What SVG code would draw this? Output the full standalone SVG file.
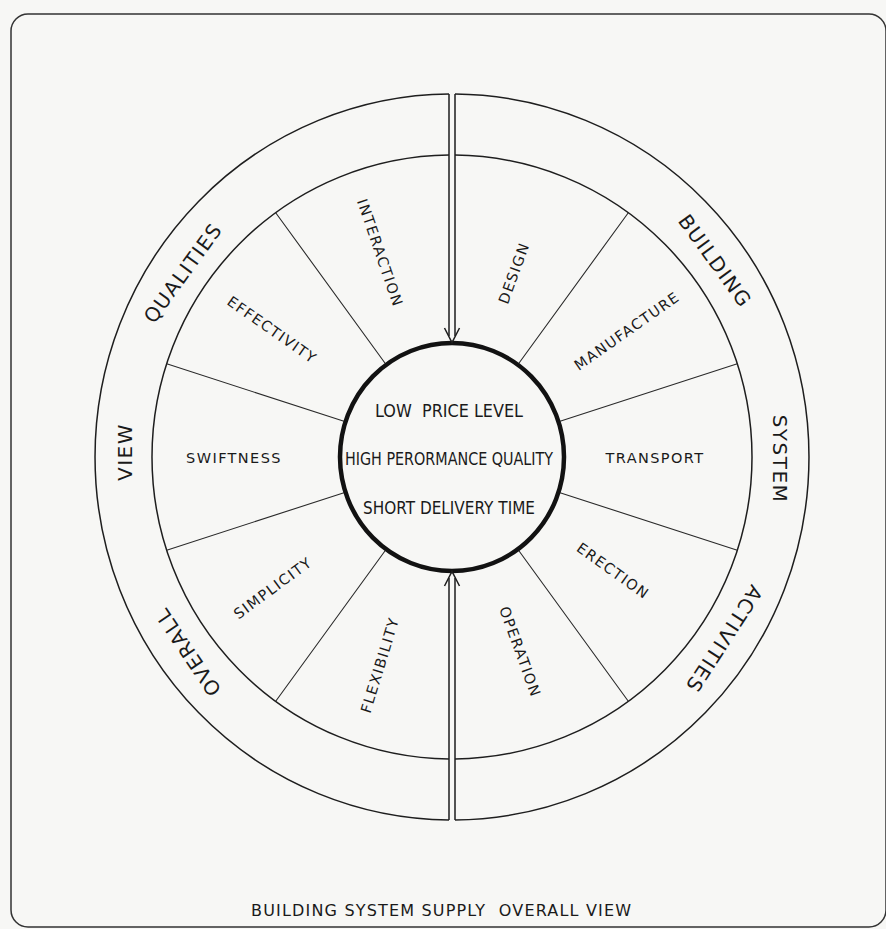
<svg xmlns="http://www.w3.org/2000/svg" width="886" height="929" viewBox="0 0 886 929">
<style>
.ln{fill:none;stroke:#1e1e1e;stroke-width:1.5}
.sp{fill:none;stroke:#2a2a2a;stroke-width:1.1}
.hub{fill:none;stroke:#121212;stroke-width:4.5}
.ar{fill:none;stroke:#1e1e1e;stroke-width:1.5;stroke-linejoin:miter}
text{font-family:"DejaVu Sans","Liberation Sans",sans-serif;fill:#1a1a1a;text-anchor:middle;dominant-baseline:central}
.seg{font-size:14.5px;letter-spacing:1.4px}
.ring{font-size:20px;letter-spacing:1.5px}
.core{font-size:18px;white-space:pre}
.title{font-size:16px;white-space:pre}
</style>
<rect width="886" height="929" fill="#f7f7f5"/>
<rect id="frame" x="11" y="14" width="875" height="913" rx="17" fill="none" stroke="#333" stroke-width="1.5"/>

<g id="rings">
<path class="ln" d="M449 94.013 A357 363 0 0 0 449 819.987"/>
<path class="ln" d="M455 94.013 A357 363 0 0 1 455 819.987"/>
<path class="ln" d="M449 155.015 A300 302 0 0 0 449 758.985"/>
<path class="ln" d="M455 155.015 A300 302 0 0 1 455 758.985"/>
<path class="sp" d="M517.8 364.8 L628.3 212.7 M558.5 421.8 L737.3 363.7 M558.5 492.2 L737.3 550.3 M517.8 549.2 L628.3 701.3 M386.2 364.8 L275.7 212.7 M345.5 421.8 L166.7 363.7 M345.5 492.2 L166.7 550.3 M386.2 549.2 L275.7 701.3"/>
</g>

<g id="hub">
<ellipse class="hub" cx="452" cy="457" rx="112" ry="114"/>
<text class="core" x="449" y="410" textLength="148" lengthAdjust="spacingAndGlyphs">LOW  PRICE LEVEL</text>
<text class="core" x="449" y="458.5" textLength="208" lengthAdjust="spacingAndGlyphs">HIGH PERORMANCE QUALITY</text>
<text class="core" x="449" y="507.5" textLength="172" lengthAdjust="spacingAndGlyphs">SHORT DELIVERY TIME</text>
</g>

<g id="connectors">
<path class="ln" d="M449 94 V336 M455 94 V336"/>
<path class="ar" d="M444.5 328 L452 342.5 L459.5 328"/>
<path class="ln" d="M449 820 V578 M455 820 V578"/>
<path class="ar" d="M444.5 586 L452 571.5 L459.5 586"/>
</g>

<g id="seg-interaction"><text class="seg" transform="translate(380 253) rotate(71)">INTERACTION</text></g>
<g id="seg-effectivity"><text class="seg" transform="translate(272 330) rotate(35)">EFFECTIVITY</text></g>
<g id="seg-swiftness"><text class="seg" transform="translate(234 458)">SWIFTNESS</text></g>
<g id="seg-simplicity"><text class="seg" transform="translate(273 588) rotate(-36.5)">SIMPLICITY</text></g>
<g id="seg-flexibility"><text class="seg" transform="translate(380 665) rotate(-73)">FLEXIBILITY</text></g>
<g id="seg-design"><text class="seg" transform="translate(514 273) rotate(-70)">DESIGN</text></g>
<g id="seg-manufacture"><text class="seg" transform="translate(627 331) rotate(-35)">MANUFACTURE</text></g>
<g id="seg-transport"><text class="seg" transform="translate(655 458)">TRANSPORT</text></g>
<g id="seg-erection"><text class="seg" transform="translate(613 571) rotate(35.5)">ERECTION</text></g>
<g id="seg-operation"><text class="seg" transform="translate(520 652) rotate(70)">OPERATION</text></g>

<g id="ring-qualities"><text class="ring" transform="translate(183 273) rotate(-54)">QUALITIES</text></g>
<g id="ring-view"><text class="ring" transform="translate(125 452) rotate(-90)">VIEW</text></g>
<g id="ring-overall"><text class="ring" transform="translate(188 652) rotate(-124)">OVERALL</text></g>
<g id="ring-building"><text class="ring" transform="translate(715 261) rotate(54)">BUILDING</text></g>
<g id="ring-system"><text class="ring" transform="translate(780 459) rotate(90)">SYSTEM</text></g>
<g id="ring-activities"><text class="ring" transform="translate(724 639) rotate(123)">ACTIVITIES</text></g>

<g id="caption"><text class="title" x="441" y="910" textLength="380" lengthAdjust="spacing">BUILDING SYSTEM SUPPLY  OVERALL VIEW</text></g>
</svg>
